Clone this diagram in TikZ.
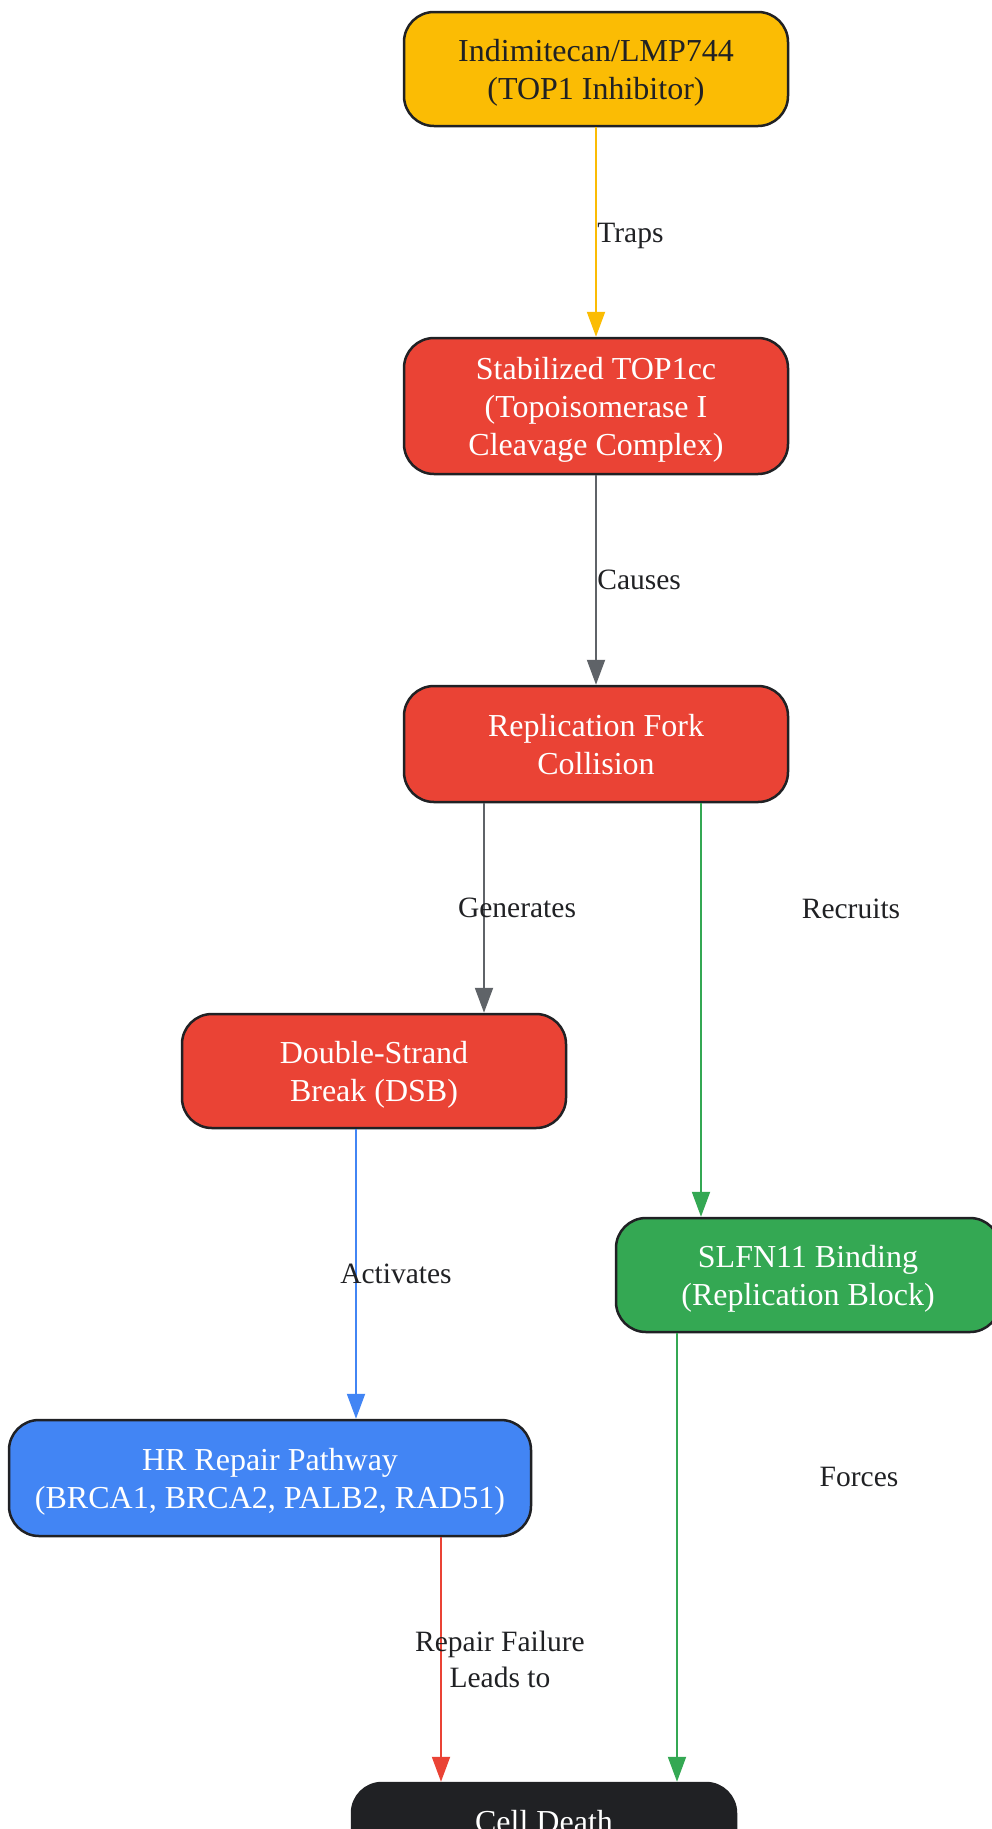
\documentclass[tikz,border=0pt]{standalone}
\usepackage{fontspec}
\setmainfont{Liberation Serif}
\usetikzlibrary{arrows.meta}
\definecolor{gyellow}{HTML}{FBBC04}
\definecolor{gred}{HTML}{EA4335}
\definecolor{ggreen}{HTML}{34A853}
\definecolor{gblue}{HTML}{4285F4}
\definecolor{gdark}{HTML}{202124}
\definecolor{ggray}{HTML}{5F6368}
\tikzset{
  stepnode/.style = {shape=rectangle, rounded corners=30pt,
                     draw=gdark, line width=2.5pt, align=center,
                     minimum width=384pt, minimum height=114pt,
                     text=white, font=\fontsize{32}{38}\selectfont,
                     text depth=-1pt},
  drug/.style     = {stepnode, fill=gyellow, text=gdark},
  damage/.style   = {stepnode, fill=gred},
  block/.style    = {stepnode, fill=ggreen},
  repair/.style   = {stepnode, fill=gblue},
  death/.style    = {stepnode, fill=gdark},
  link/.style     = {line width=2pt, -{Triangle[length=25pt,width=18pt]}},
  lbl/.style      = {text=gdark, align=center, font=\fontsize{29.5}{36}\selectfont}
}
\begin{document}
\begin{tikzpicture}[x=1pt, y=-1pt]
  \useasboundingbox (0,0) rectangle (992,1829);
  % nodes
  \node[drug] (drug) at (596,69) {Indimitecan/LMP744\\(TOP1 Inhibitor)};
  \node[damage, minimum height=136pt] (cc) at (596,406) {Stabilized TOP1cc\\(Topoisomerase I\\Cleavage Complex)};
  \node[damage, minimum height=116pt] (fork) at (596,744) {Replication Fork\\Collision};
  \node[damage] (dsb) at (374,1071) {Double-Strand\\Break (DSB)};
  \node[block] (slfn) at (808,1275) {SLFN11 Binding\\(Replication Block)};
  \node[repair, minimum width=522pt, minimum height=116pt] (hr) at (270,1478) {HR Repair Pathway\\(BRCA1, BRCA2, PALB2, RAD51)};
  \node[death] (death) at (544,1840) {Cell Death\\\strut};
  % edges
  \draw[link, gyellow] (drug) -- (cc)
    node[lbl, midway, anchor=west, xshift=-3pt, yshift=-4pt] {Traps};
  \draw[link, ggray] (cc) -- (fork)
    node[lbl, midway, anchor=west, xshift=-3pt] {Causes};
  \draw[link, ggray] ([xshift=-112pt]fork.south) -- ([xshift=-112pt]fork.south |- dsb.north)
    node[lbl, midway, xshift=33pt] {Generates};
  \draw[link, ggreen] ([xshift=105pt]fork.south) -- ([xshift=105pt]fork.south |- slfn.north)
    node[lbl, pos=0.255, xshift=150pt] {Recruits};
  \draw[link, gblue] ([xshift=-18pt]dsb.south) -- ([xshift=-18pt]dsb.south |- hr.north)
    node[lbl, midway, xshift=40pt] {Activates};
  \draw[link, ggreen] ([xshift=-131pt]slfn.south) -- ([xshift=-131pt]slfn.south |- death.north)
    node[lbl, pos=0.32, xshift=182pt] {Forces};
  \draw[link, gred] ([xshift=171pt]hr.south) -- ([xshift=171pt]hr.south |- death.north)
    node[lbl, midway, xshift=59pt] {Repair Failure\\Leads to};
\end{tikzpicture}
\end{document}
